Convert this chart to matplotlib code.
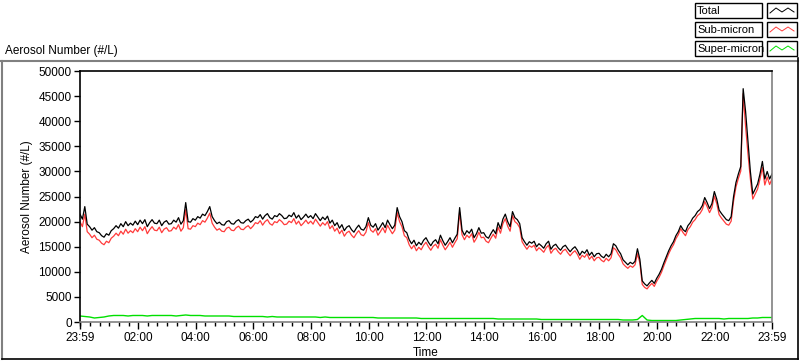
import numpy as np
import matplotlib
matplotlib.use("Agg")
from matplotlib import pyplot as plt
from matplotlib.patches import Rectangle
from matplotlib.lines import Line2D

# 5-minute readings starting at 23:59 (one row per hour)
total = [
    21500, 20500, 23000, 19500, 19000, 18300, 18800, 18000, 17800, 17200, 16900, 17600,
    17300, 18200, 18600, 19200, 18700, 19600, 19000, 20000, 19200, 19700, 19300, 20100,
    19400, 20300, 19600, 20400, 19000, 19800, 20400, 19700, 19600, 20300, 19200, 19900,
    20200, 19500, 19600, 20300, 19900, 20800, 19500, 20200, 23800, 20000, 19900, 20600,
    20300, 21000, 20700, 21500, 21200, 22000, 23000, 21000, 20200, 19600, 19900, 19400,
    19300, 20000, 20200, 19600, 19500, 20100, 20400, 19800, 19700, 20200, 20500, 19900,
    20300, 21000, 20800, 21400, 20500, 21200, 21600, 20800, 20500, 21200, 21000, 21600,
    21200, 20600, 20700, 21300, 21000, 21800, 20700, 21300, 20400, 20900, 21500, 20800,
    21200, 20600, 21600, 20900, 20200, 20900, 20400, 21100, 19700, 20300, 19200, 19800,
    18700, 19400, 18200, 18900, 19200, 18400, 17900, 18700, 19300, 18500, 18300, 19000,
    20800, 19300, 18900, 19600, 18300, 19000, 19800, 18800, 20300, 19400, 18600, 19300,
    22800, 21000, 20000, 18200, 17800, 16400, 15600, 16300, 15200, 15900, 15400, 16300,
    16800, 15900, 15200, 16000, 16400, 15600, 17300, 16200, 15300, 16000, 16800, 15800,
    16700, 17500, 22800, 18300, 17300, 18200, 17700, 18500, 16800, 17600, 18800, 17700,
    17800, 17000, 16700, 17600, 18400, 17600, 19800, 18600, 20500, 21500, 20000, 19000,
    22000, 20800, 20400, 19600, 16800, 16000, 15300, 16000, 15700, 16100, 15000, 15600,
    15200, 14700, 15600, 16100, 14500, 15200, 15500, 14800, 14300, 15000, 15300, 14600,
    14000, 14600, 15000, 14300, 13300, 14100, 13700, 14400, 13300, 13900, 13000, 13600,
    13700, 13100, 12800, 13500, 13000, 13600, 15600, 15200, 14300, 13600, 12400, 11900,
    11400, 11900, 11600, 12100, 14600, 12500, 8200, 7600, 7200, 7800, 8300, 7700,
    8700, 9500, 10500, 11800, 13000, 14200, 15200, 16000, 17200, 18000, 19200, 18400,
    18000, 19200, 19800, 20700, 21200, 22000, 22400, 23200, 24800, 23800, 22600, 23600,
    26000, 24500, 22300, 21600, 21000, 20400, 20200, 21000, 25000, 27800, 29500, 31000,
    46500, 42000, 36000, 30000, 25500, 26500, 27500, 29500, 32000, 28500, 30000, 28500,
    29500,
]
sub_micron = [
    20000, 19000, 21500, 18000, 17500, 16800, 17300, 16500, 16300, 15700, 15400, 16100,
    15800, 16700, 17100, 17700, 17200, 18100, 17500, 18500, 17700, 18200, 17800, 18600,
    18000, 18900, 18200, 19000, 17600, 18400, 19000, 18300, 18200, 18900, 17800, 18500,
    18800, 18100, 18200, 18900, 18500, 19400, 18100, 18800, 22400, 18600, 18500, 19200,
    19000, 19700, 19400, 20200, 19900, 20700, 21700, 19700, 18900, 18300, 18600, 18100,
    18000, 18700, 18900, 18300, 18200, 18800, 19100, 18500, 18400, 18900, 19200, 18600,
    19100, 19800, 19600, 20200, 19300, 20000, 20400, 19600, 19300, 20000, 19800, 20400,
    20000, 19400, 19500, 20100, 19800, 20600, 19500, 20100, 19200, 19700, 20300, 19600,
    20100, 19500, 20500, 19800, 19100, 19800, 19300, 20000, 18600, 19200, 18100, 18700,
    17600, 18300, 17100, 17800, 18100, 17300, 16800, 17600, 18200, 17400, 17200, 17900,
    19800, 18300, 17900, 18600, 17300, 18000, 18800, 17800, 19300, 18400, 17600, 18300,
    21800, 20000, 19000, 17200, 16800, 15400, 14600, 15300, 14200, 14900, 14400, 15300,
    15900, 15000, 14300, 15100, 15500, 14700, 16400, 15300, 14400, 15100, 15900, 14900,
    15800, 16600, 21900, 17400, 16400, 17300, 16800, 17600, 15900, 16700, 17900, 16800,
    16900, 16100, 15800, 16700, 17500, 16700, 18900, 17700, 19600, 20600, 19100, 18100,
    21200, 20000, 19600, 18800, 16000, 15200, 14500, 15200, 14900, 15300, 14200, 14800,
    14400, 13900, 14800, 15300, 13700, 14400, 14700, 14000, 13500, 14200, 14500, 13800,
    13200, 13800, 14200, 13500, 12500, 13300, 12900, 13600, 12500, 13100, 12200, 12800,
    12900, 12300, 12000, 12700, 12200, 12800, 14800, 14400, 13500, 12800, 11600, 11100,
    10700, 11200, 10900, 11400, 13600, 11800, 7500, 6900, 6600, 7200, 7700, 7100,
    8100, 8900, 9900, 11200, 12400, 13600, 14600, 15400, 16600, 17400, 18600, 17800,
    17200, 18400, 19000, 19900, 20400, 21200, 21600, 22400, 24000, 23000, 21800, 22800,
    25100, 23600, 21400, 20700, 20100, 19500, 19300, 20100, 24100, 26900, 28600, 30100,
    45500, 39000, 33500, 28500, 24500, 25500, 26500, 28500, 30800, 27300, 28900, 27400,
    28500,
]
# 10-minute readings
super_micron = [
    1200, 1100, 1000, 800, 900, 1000,
    1200, 1300, 1300, 1300, 1200, 1300,
    1300, 1300, 1200, 1300, 1300, 1300,
    1300, 1300, 1200, 1300, 1400, 1300,
    1300, 1300, 1200, 1200, 1200, 1200,
    1200, 1200, 1100, 1100, 1100, 1100,
    1100, 1100, 1100, 1000, 1100, 1000,
    1000, 1000, 1000, 1000, 1000, 1000,
    1000, 1000, 900, 1000, 900, 900,
    900, 900, 900, 900, 900, 900,
    900, 900, 800, 800, 800, 800,
    800, 800, 800, 800, 800, 700,
    700, 700, 700, 700, 700, 700,
    700, 700, 700, 700, 700, 700,
    700, 700, 700, 600, 600, 600,
    600, 600, 600, 600, 600, 600,
    500, 500, 500, 500, 500, 500,
    500, 500, 500, 500, 500, 500,
    500, 500, 500, 500, 500, 400,
    400, 400, 500, 1300, 400, 300,
    300, 300, 300, 300, 300, 400,
    500, 600, 700, 700, 700, 700,
    700, 700, 600, 700, 700, 700,
    700, 700, 800, 800, 900, 900,
    900,
]
minutes_5 = [5 * i for i in range(len(total))]
minutes_10 = [10 * i for i in range(len(super_micron))]

tick_pos = [0, 121, 241, 361, 481, 601, 721, 841, 961, 1081, 1201, 1321, 1440]
tick_lab = ["23:59", "02:00", "04:00", "06:00", "08:00", "10:00", "12:00",
            "14:00", "16:00", "18:00", "20:00", "22:00", "23:59"]
y_ticks = list(range(0, 50001, 5000))

plt.rcParams["font.family"] = "Liberation Sans"
plt.rcParams["font.size"] = 8

fig = plt.figure(figsize=(8, 3.61), dpi=100)
ax = fig.add_axes([0.1, 0.108, 0.865, 0.695])

ax.plot(minutes_5, sub_micron, color="#ff3b3b", lw=0.9)
ax.plot(minutes_5, total, color="black", lw=0.9)
ax.plot(minutes_10, super_micron, color="#00e000", lw=1.0)

ax.set_xlim(0, 1440)
ax.set_ylim(0, 50000)
ax.set_yticks(y_ticks)
ax.set_xticks(tick_pos)
ax.set_xticklabels(tick_lab)
ax.set_xticks([1 + 20 * k for k in range(72)], minor=True)
ax.tick_params(axis="y", length=4, width=1, pad=2, labelsize=8.5)
ax.tick_params(axis="x", which="major", length=5, width=1, pad=2, labelsize=8.5)
ax.tick_params(axis="x", which="minor", length=3, width=1)
ax.set_ylabel("Aerosol Number (#/L)", fontsize=8.5, labelpad=4)
ax.set_xlabel("Time", fontsize=8.5, labelpad=2)

ax.spines["left"].set_color("black")
ax.spines["top"].set_color("black")
ax.spines["right"].set_color("#808080")
ax.spines["bottom"].set_color("#808080")
for s in ax.spines.values():
    s.set_linewidth(1.2)

# outer panel frame
fig.add_artist(Line2D([0.001, 0.997], [0.831, 0.831], color="#808080", lw=1.5))
fig.add_artist(Line2D([0.002, 0.002], [0.005, 0.831], color="#808080", lw=1.5))
fig.add_artist(Line2D([0.002, 0.997], [0.006, 0.006], color="black", lw=1.2))
fig.add_artist(Line2D([0.997, 0.997], [0.006, 0.84], color="black", lw=1.2))

fig.text(0.006, 0.86, "Aerosol Number (#/L)", fontsize=8.5, va="center", ha="left")

# legend boxes
names = ["Total", "Sub-micron", "Super-micron"]
colors = ["black", "#ff3b3b", "#00e000"]
W, H = 800.0, 361.0
for i, (n, c) in enumerate(zip(names, colors)):
    y0 = 3 + i * 19
    fig.add_artist(Rectangle((695 / W, 1 - (y0 + 15) / H), 67 / W, 15 / H,
                             fill=False, ec="black", lw=1.0))
    fig.text(697 / W, 1 - (y0 + 8) / H, n, fontsize=8, va="center", ha="left")
    fig.add_artist(Rectangle((767 / W, 1 - (y0 + 15) / H), 30 / W, 15 / H,
                             fill=False, ec="black", lw=1.0))
    zx = [770, 776, 782, 788, 794]
    zy = [y0 + 10, y0 + 5, y0 + 9, y0 + 5, y0 + 9]
    fig.add_artist(Line2D([v / W for v in zx], [1 - v / H for v in zy], color=c, lw=0.7))

fig.savefig("out.png", dpi=100)
